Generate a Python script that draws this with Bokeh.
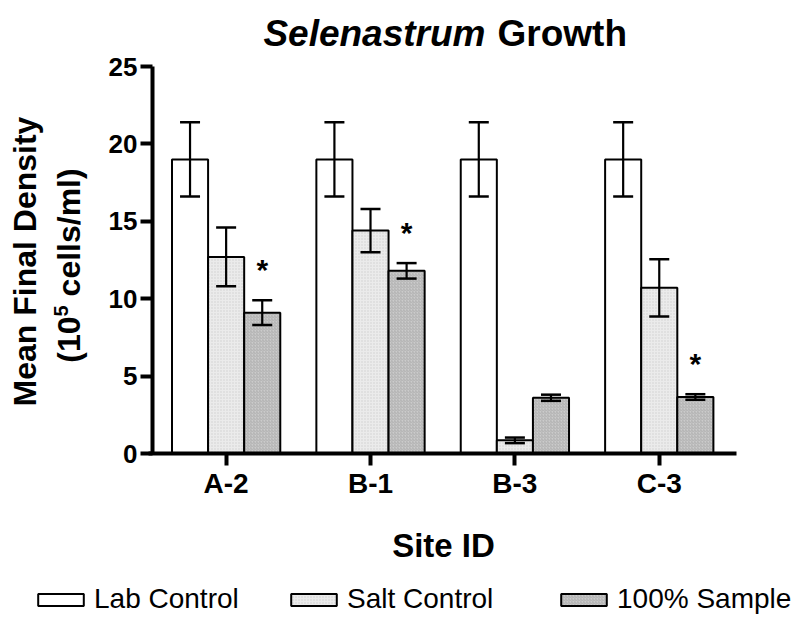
import math

from bokeh.core.properties import value
from bokeh.embed import file_html
from bokeh.models import (ColumnDataSource, FixedTicker, Label, Legend,
                          LegendItem, Range1d, TeeHead, Whisker)
from bokeh.plotting import figure
from bokeh.resources import INLINE

# ---- data -------------------------------------------------------------
sites = ["A-2", "B-1", "B-3", "C-3"]
series_names = ["Lab Control", "Salt Control", "100% Sample"]

lab_mean = [19.0, 19.0, 19.0, 19.0]
lab_err = [2.4, 2.4, 2.4, 2.4]
salt_mean = [12.7, 14.4, 0.85, 10.7]
salt_err = [1.9, 1.4, 0.18, 1.85]
sample_mean = [9.1, 11.8, 3.6, 3.65]
sample_err = [0.8, 0.5, 0.2, 0.18]
significant = [True, True, False, True]   # asterisk over the 100% sample bar

y_ticks = [0, 5, 10, 15, 20, 25]

# ---- layout constants ---------------------------------------------------
W, H = 799, 617
AL, AR, AT, AB = 152, 736, 66, 453       # axes box edges in pixels
X0, X1 = -0.51, 3.535                    # data span of the x axis
Y0, Y1 = 0, 25                           # data span of the y axis
FONT = "Liberation Sans"
BAR_W = 0.25
offsets = [-BAR_W, 0.0, BAR_W]
fills = ["#ffffff", "#ebebeb", "#cbcbcb"]
hatches = [None, "dot", "right_diagonal_line"]
hatch_colors = ["#ffffff", "#b8b8b8", "#9a9a9a"]


def px_x(sx):
    return X0 + (sx - AL) / (AR - AL) * (X1 - X0)


def px_y(sy):
    return Y0 + (AB - sy) / (AB - AT) * (Y1 - Y0)


# the frame covers the whole canvas; axes sit at fixed data locations
p = figure(width=W, height=H, output_backend="svg", toolbar_location=None,
           x_range=Range1d(px_x(0), px_x(W)), y_range=Range1d(px_y(H), px_y(0)),
           min_border=0)
p.outline_line_color = None
p.grid.grid_line_color = None
p.background_fill_color = "white"

# ---- bars + error bars ----------------------------------------------------
series = [(lab_mean, lab_err), (salt_mean, salt_err), (sample_mean, sample_err)]
bar_renderers = []
for k, (means, errs) in enumerate(series):
    xs = [i + offsets[k] for i in range(len(sites))]
    src = ColumnDataSource(dict(
        x=xs, top=means,
        upper=[m + e for m, e in zip(means, errs)],
        lower=[m - e for m, e in zip(means, errs)],
    ))
    r = p.vbar(x="x", top="top", bottom=0, width=BAR_W, source=src,
               fill_color=fills[k], line_color="black", line_width=2,
               hatch_pattern=hatches[k], hatch_color=hatch_colors[k],
               hatch_scale=3, hatch_weight=1, hatch_alpha=0.55)
    bar_renderers.append(r)
    w = Whisker(base="x", upper="upper", lower="lower", source=src,
                line_color="black", line_width=2.2, level="annotation",
                upper_head=TeeHead(size=20, line_width=2.5, line_color="black"),
                lower_head=TeeHead(size=20, line_width=2.5, line_color="black"))
    p.add_layout(w)

# significance markers
star_x = [i + offsets[2] for i, s in enumerate(significant) if s]
star_y = [sample_mean[i] + sample_err[i] + 2.0
          for i, s in enumerate(significant) if s]
p.text(x=star_x, y=star_y, text=["*"] * len(star_x),
       text_font=value(FONT), text_font_style="bold", text_font_size="30px",
       text_align="center", text_baseline="alphabetic", text_color="black")

# ---- axes -----------------------------------------------------------------
for ax in (p.xaxis[0], p.yaxis[0]):
    ax.axis_line_width = 4
    ax.axis_line_color = "black"
    ax.major_tick_line_width = 4
    ax.major_tick_line_color = "black"
    ax.major_tick_out = 12
    ax.major_tick_in = 0
    ax.minor_tick_line_color = None
    ax.major_label_text_font = FONT
    ax.major_label_text_font_style = "bold"
    ax.major_label_text_color = "black"

p.xaxis.fixed_location = Y0
p.xaxis.bounds = (px_x(AL - 4), X1)
p.xaxis.ticker = FixedTicker(ticks=list(range(len(sites))))
p.xaxis.major_label_overrides = {i: s for i, s in enumerate(sites)}
p.xaxis.major_label_text_font_size = "28px"
p.xaxis.major_label_standoff = 2

p.yaxis.fixed_location = X0
p.yaxis.bounds = (Y0, Y1)
p.yaxis.ticker = FixedTicker(ticks=y_ticks)
p.yaxis.major_label_text_font_size = "26px"
p.yaxis.major_label_standoff = 3


# ---- titles and axis labels -------------------------------------------------
def add_label(text, sx, sy, size, style="bold", align="center",
              baseline="alphabetic", angle=0.0):
    p.add_layout(Label(x=px_x(sx), y=px_y(sy), text=text,
                       text_font=FONT, text_font_size=size,
                       text_font_style=style, text_align=align,
                       text_baseline=baseline, angle=angle,
                       text_color="black"))


add_label("Selenastrum", 485, 33, "37px", style="bold italic", align="right")
add_label("Growth", 497, 33, "37px", align="left")
add_label("Site ID", 443, 545, "33px")

# vertical axis title, two lines; the second carries a superscript exponent
UP = math.pi / 2
add_label("Mean Final Density", 24, 261, "32px", baseline="middle", angle=UP)
main_px, sup_px = 32, 20
w_open = 1.445 * main_px        # advance of "(10" in Liberation Sans Bold
w_sup = 0.556 * sup_px          # advance of "5"
w_space = 0.278 * main_px       # advance of a space
w_rest = 4.002 * main_px        # advance of "cells/ml)"
y_start = 265 + (w_open + w_sup + w_space + w_rest) / 2
add_label("(10", 68, y_start, f"{main_px}px", align="left",
          baseline="middle", angle=UP)
add_label("5", 60, y_start - w_open, f"{sup_px}px", align="left",
          baseline="middle", angle=UP)
add_label("cells/ml)", 68, y_start - w_open - w_sup - w_space, f"{main_px}px",
          align="left", baseline="middle", angle=UP)

# ---- legend: one entry per series, each at its own spot ----------------------
legend_x = [32, 285, 555]
for name, r, lx in zip(series_names, bar_renderers, legend_x):
    leg = Legend(
        items=[LegendItem(label=name, renderers=[r])],
        location=(lx, 2),
        glyph_width=57, glyph_height=15, label_standoff=5,
        padding=0, margin=0, border_line_color=None,
        background_fill_alpha=0,
        label_text_font=FONT, label_text_font_size="28px",
        label_text_color="black",
    )
    p.add_layout(leg, "center")

with open("out.html", "w") as f:
    f.write(file_html(p, INLINE))
